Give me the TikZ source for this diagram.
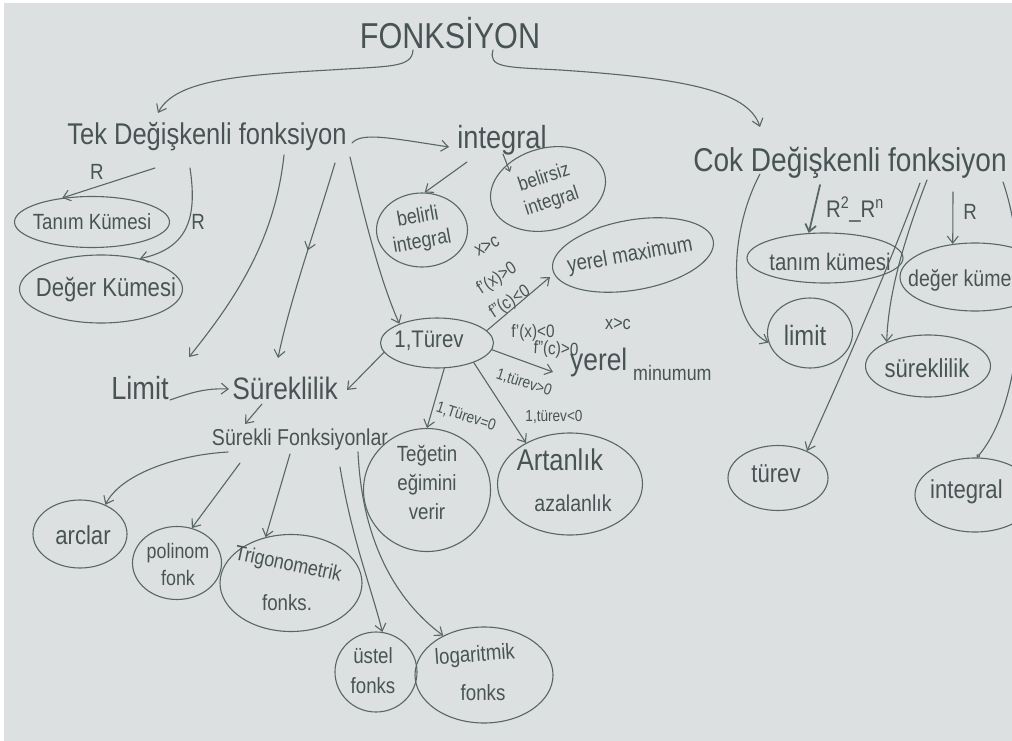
\documentclass[tikz,border=0pt]{standalone}
\usepackage{fontspec}
\setmainfont{Liberation Sans}[FakeStretch=0.85]
\usetikzlibrary{arrows.meta,shapes.geometric,decorations.markings,calc}
\definecolor{paper}{RGB}{221,224,224}
\definecolor{pencil}{RGB}{88,102,102}
\definecolor{ink}{RGB}{72,84,84}
\newcommand\fz[1]{\fontsize{#1}{#1}\selectfont}
\tikzset{
  pen/.style={draw=pencil,line width=1.1pt,line cap=round,line join=round},
  arr/.style={pen,-{Straight Barb[length=7pt,width=11pt]}},
  bub/.style={draw=pencil,line width=1.1pt,ellipse,inner sep=0pt},
  txt/.style={text=ink,inner sep=0pt,align=center},
  midarrow/.style={postaction={decorate,decoration={markings,mark=at position #1 with {\arrow[pencil,line width=1.1pt]{Straight Barb[length=7pt,width=11pt]}}}}}
}
\begin{document}
\begin{tikzpicture}[x=1pt,y=-1pt]
\useasboundingbox (0,0) rectangle (1012,741);
\clip (0,0) rectangle (1012,741);
\fill[paper] (0,0) rectangle (1012,741);
\fill[white] (0,0) rectangle (4,741);
\fill[white] (0,0) rectangle (1012,3);

% ---------- main titles ----------
\node[txt,font=\fz{36}] (fonk) at (450,33) {FONKSİYON};
\node[txt,font=\fz{30}] (tek) at (207,137) {Tek Değişkenli fonksiyon};
\node[txt,font=\fz{32}] (integ) at (502,140) {integral};
\node[txt,font=\fz{33}] (cok) at (850,163) {Cok Değişkenli fonksiyon};

% ---------- left cluster ----------
\node[bub,minimum width=155pt,minimum height=51pt] (tanimE) at (92,222) {};
\node[txt,font=\fz{22}] (tanimT) at (92,222) {Tanım Kümesi};
\node[bub,minimum width=163pt,minimum height=68pt] (degerE) at (101,289) {};
\node[txt,font=\fz{26}] (degerT) at (106,290) {Değer Kümesi};
\node[txt,font=\fz{22}] (r1) at (97,172) {R};
\node[txt,font=\fz{22}] (r2) at (198,222) {R};

\node[txt,font=\fz{32}] (limit) at (140,388) {Limit};
\node[txt,font=\fz{31}] (surek) at (285,388) {Süreklilik};
\node[txt,font=\fz{23}] (surF) at (300,440) {Sürekli Fonksiyonlar};

\node[bub,minimum width=94pt,minimum height=68pt] (arcE) at (80,534) {};
\node[txt,font=\fz{26}] (arcT) at (83,535) {arclar};
\node[bub,minimum width=89pt,minimum height=73pt] (polE) at (177,563) {};
\node[txt,font=\fontsize{21}{27}\selectfont] (polT) at (178,564) {polinom\\fonk};
\node[bub,minimum width=142pt,minimum height=97pt] (trigE) at (291,583) {};
\node[txt,font=\fz{21},rotate=-12] (trigT1) at (288,565) {Trigonometrik};
\node[txt,font=\fz{22}] (trigT2) at (287,603) {fonks.};
\node[bub,minimum width=82pt,minimum height=80pt] (ustE) at (376,672) {};
\node[txt,font=\fontsize{22}{30}\selectfont] (ustT) at (373,671) {üstel\\fonks};
\node[bub,minimum width=138pt,minimum height=96pt] (logE) at (484,675) {};
\node[txt,font=\fz{22},rotate=4] (logT1) at (475,656) {logaritmik};
\node[txt,font=\fz{22}] (logT2) at (483,693) {fonks};

% ---------- middle cluster ----------
\node[bub,minimum width=91pt,minimum height=74pt] (belE) at (422,230) {};
\node[txt,font=\fontsize{21}{25}\selectfont,rotate=10] (belT) at (420,230) {belirli\\integral};
\node[bub,minimum width=117pt,minimum height=82pt,rotate=15] (belsE) at (548,189) {};
\node[txt,font=\fontsize{20}{25}\selectfont,rotate=18] (belsT) at (548,190) {belirsiz\\integral};
\node[bub,minimum width=163pt,minimum height=70pt,rotate=10] (maxE) at (633,255) {};
\node[txt,font=\fz{22},rotate=10] (maxT) at (630,256) {yerel maximum};

\node[bub,minimum width=113pt,minimum height=50pt] (turevE) at (437,343) {};
\node[txt,font=\fz{24}] (turevT) at (429,341) {1,Türev};

\node[txt,font=\fz{31},anchor=base west] (yerel) at (570,370) {yerel};
\node[txt,font=\fz{21},anchor=base west] (minu) at (633,380) {minumum};

\node[bub,minimum width=127pt,minimum height=123pt] (teE) at (427,490) {};
\node[txt,font=\fontsize{22}{29}\selectfont] (teT) at (427,482) {Teğetin\\eğimini\\verir};
\node[bub,minimum width=145pt,minimum height=102pt] (artE) at (570,484) {};
\node[txt,font=\fz{30}] (artT1) at (560,460) {Artanlık};
\node[txt,font=\fz{23}] (artT2) at (573,503) {azalanlık};

% labels on the 1. Türev connectors
\node[txt,font=\fz{19},rotate=28] (xc1) at (487,246) {x>c};
\node[txt,font=\fz{18},rotate=33] (fl1) at (497,279) {f'(x)>0};
\node[txt,font=\fz{18},rotate=33] (fl2) at (510,302) {f''(c)<0};
\node[txt,font=\fz{18}] (fl3) at (533,333) {f'(x)<0};
\node[txt,font=\fz{18},rotate=-3] (fl4) at (556,350) {f''(c)>0};
\node[txt,font=\fz{19}] (xc2) at (618,324) {x>c};
\node[txt,font=\fz{16},rotate=-18] (d0) at (466,417) {1,Türev=0};
\node[txt,font=\fz{16},rotate=-18] (dp) at (524,383) {1,türev>0};
\node[txt,font=\fz{16}] (dn) at (554,417) {1,türev<0};

% ---------- right cluster ----------
\node[bub,minimum width=156pt,minimum height=50pt] (tanRE) at (825,258) {};
\node[txt,font=\fz{24}] (tanRT) at (830,262) {tanım kümesi};
\node[bub,minimum width=150pt,minimum height=68pt] (degRE) at (975,277) {};
\node[txt,font=\fz{23},anchor=west] (degRT) at (908,280) {değer kümesi};
\node[bub,minimum width=85pt,minimum height=70pt] (limRE) at (810,333) {};
\node[txt,font=\fz{28}] (limRT) at (805,335) {limit};
\node[bub,minimum width=125pt,minimum height=62pt] (surRE) at (928,366) {};
\node[txt,font=\fz{26}] (surRT) at (927,368) {süreklilik};
\node[bub,minimum width=100pt,minimum height=65pt] (turRE) at (778,478) {};
\node[txt,font=\fz{26}] (turRT) at (776,474) {türev};
\node[bub,minimum width=120pt,minimum height=74pt] (intRE) at (975,495) {};
\node[txt,font=\fz{26},anchor=west] (intRT) at (930,492) {integral};
\node[txt,font=\fz{24}] (rr1) at (855,210) {R\textsuperscript{2}\_R\textsuperscript{n}};
\node[txt,font=\fz{22}] (rr2) at (970,212) {R};

% ---------- connector end points ----------
\coordinate (fA) at (413,50);   \coordinate (tekIn) at (158,113);
\coordinate (fB) at (493,50);   \coordinate (cokIn) at (760,127);
\coordinate (t1) at (352,143);  \coordinate (i1) at (449,147);
\coordinate (tR1) at (155,168); \coordinate (tR2) at (190,168);
\coordinate (tL) at (284,155);  \coordinate (limIn) at (189,357);
\coordinate (tS) at (335,163);  \coordinate (surIn) at (278,358);
\coordinate (tT) at (350,157);
\coordinate (iB) at (467,162);
\coordinate (iB2) at (503,154); \coordinate (bsIn) at (510,172);
\coordinate (maxIn) at (550,277);
\coordinate (minIn) at (553,372);
\coordinate (sIn2) at (347,390);
\coordinate (lO) at (170,400);  \coordinate (sIn1) at (229,389);
\coordinate (sO) at (262,404);  \coordinate (sfIn) at (245,424);
\coordinate (sf1) at (228,452); \coordinate (sf2) at (240,463);
\coordinate (sf3) at (290,454); \coordinate (sf4) at (340,467);
\coordinate (sf5) at (358,452);
\coordinate (c1) at (820,185);  \coordinate (c2) at (953,192);
\coordinate (c3) at (760,174);  \coordinate (c4) at (927,180);
\coordinate (c5) at (920,183);  \coordinate (c6) at (1003,182);

% ---------- connectors ----------
\draw[arr] (fA) .. controls (412,68) and (390,66) .. (330,70) .. controls (240,75) and (175,80) .. (tekIn);
\draw[arr] (fB) .. controls (488,68) and (505,67) .. (560,70) .. controls (680,78) and (748,90) .. (cokIn);
\draw[arr] (t1) .. controls (362,132) and (390,138) .. (i1);
\draw[arr] (tR1) -- (tanimE.141);
\draw[arr] (tR2) .. controls (197,215) and (190,248) .. (degerE.38);
\draw[arr] (tL) .. controls (275,240) and (235,300) .. (limIn);
\draw[arr,midarrow=0.45] (tS) .. controls (315,230) and (290,300) .. (surIn);
\draw[arr] (tT) .. controls (365,220) and (380,280) .. (turevE.153);
\draw[arr] (iB) -- (belE.86);
\draw[pen,-{Straight Barb[length=4pt,width=6pt]}] (iB2) -- (bsIn);
\draw[arr] (turevE.14) -- (maxIn);
\draw[arr] (turevE.-7) -- (minIn);
\draw[arr] (turevE.190) -- (sIn2);
\draw[arr] (turevE.-74) -- (teE.north);
\draw[arr] (turevE.-28) -- (artE.137);
\draw[arr] (lO) .. controls (190,393) and (205,388) .. (sIn1);
\draw[arr] (sO) -- (sfIn);
\draw[arr] (sf1) .. controls (175,455) and (120,475) .. (arcE.49);
\draw[arr] (sf2) -- (polE.67);
\draw[arr] (sf3) -- (trigE.119);
\draw[arr] (sf4) .. controls (352,540) and (372,590) .. (ustE.81);
\draw[arr] (sf5) .. controls (362,540) and (395,600) .. (logE.136);

\draw[arr,line width=1.8pt] (c1) -- (tanRE.123);
\draw[arr] (c2) -- (degRE.124);
\draw[arr] (c3) .. controls (730,230) and (725,320) .. (limRE.193);
\draw[arr] (c4) .. controls (900,250) and (888,300) .. (surRE.150);
\draw[arr] (c5) .. controls (880,290) and (830,400) .. (turRE.43);
\draw[pen,-{Circle[open,length=4pt]}] (c6) .. controls (1030,260) and (1025,400) .. (intRE.87);
\end{tikzpicture}
\end{document}
